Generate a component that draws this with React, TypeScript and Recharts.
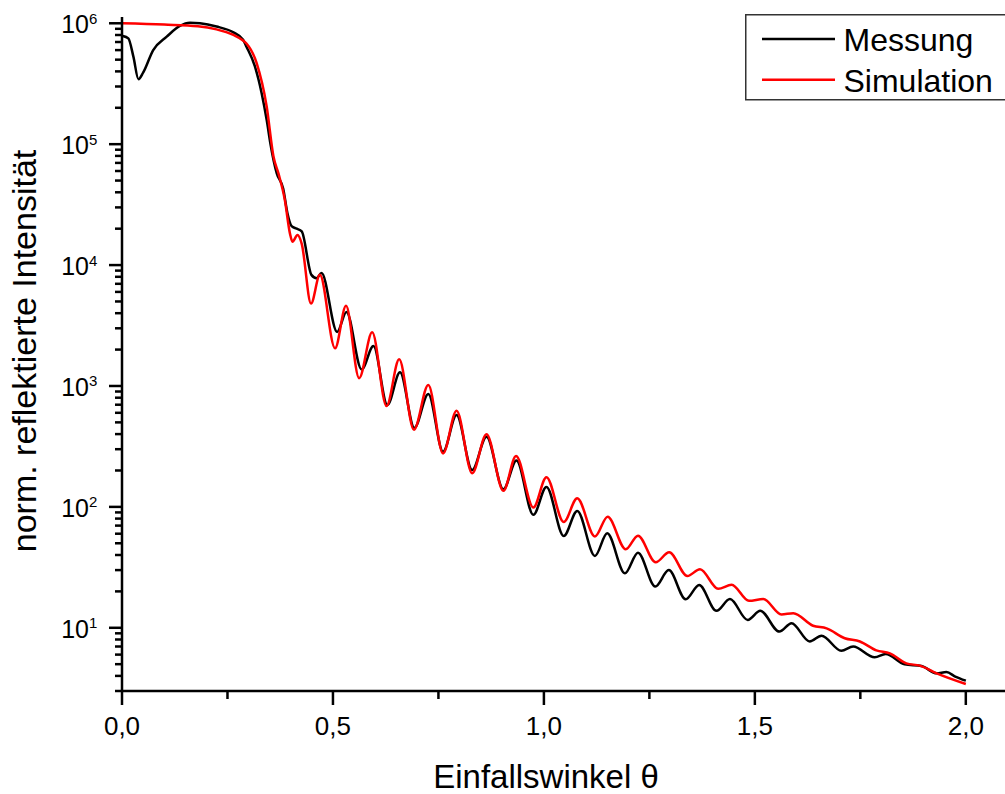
import React from 'react';
import { LineChart, Line, XAxis, YAxis, Legend } from 'recharts';

// Messung (gemessene Reflektivität)
const messungTheta = [
  0.002, 0.015, 0.027, 0.039, 0.05, 0.074, 0.106, 0.137, 0.161, 0.185, 0.224, 0.264, 0.287,
  0.295, 0.315, 0.331, 0.343, 0.352, 0.367, 0.382, 0.392, 0.402, 0.414, 0.426, 0.449, 0.461,
  0.473, 0.51, 0.532, 0.568, 0.596, 0.629, 0.659, 0.693, 0.726, 0.761, 0.793, 0.83, 0.864,
  0.904, 0.935, 0.975, 1.006, 1.047, 1.079, 1.121, 1.15, 1.192, 1.223, 1.264, 1.296, 1.336,
  1.368, 1.409, 1.441, 1.483, 1.513, 1.558, 1.587, 1.63, 1.658, 1.705, 1.733, 1.784, 1.81,
  1.855, 1.895, 1.931, 1.954, 1.975, 2.0,
];
const messungIntensity = [
  7.85e5, 7.5e5, 5.3e5, 3.45e5, 3.9e5, 6.0e5, 7.75e5, 9.5e5, 1.01e6, 1.0e6, 9.4e5, 8.4e5, 7.3e5,
  6.4e5, 4.4e5, 2.64e5, 1.58e5, 1.0e5, 5.7e4, 4.3e4, 2.7e4, 2.1e4, 2.0e4, 1.9e4, 8.3e3, 7.8e3,
  8.6e3, 2.8e3, 4.1e3, 1.37e3, 2.14e3, 697, 1.3e3, 450, 860, 286, 575, 202, 381,
  140, 242, 86, 146, 57.4, 92.5, 39.3, 60.5, 28.2, 41.8, 21.9, 30, 17.2,
  22.6, 13.8, 17.3, 11.6, 13.8, 9.3, 10.9, 7.7, 8.6, 6.46, 7.0, 5.7, 6.07,
  4.99, 4.83, 4.2, 4.3, 3.95, 3.65,
];

// Simulation
const simTheta = [
  0, 0.1, 0.18, 0.224, 0.264, 0.287, 0.295, 0.319, 0.343, 0.359, 0.371, 0.386, 0.398, 0.404,
  0.416, 0.426, 0.448, 0.469, 0.505, 0.531, 0.562, 0.593, 0.627, 0.657, 0.692, 0.726, 0.761,
  0.793, 0.83, 0.864, 0.904, 0.934, 0.975, 1.006, 1.047, 1.079, 1.121, 1.151, 1.194, 1.223,
  1.265, 1.297, 1.34, 1.37, 1.413, 1.445, 1.486, 1.52, 1.563, 1.591, 1.638, 1.67, 1.713,
  1.749, 1.788, 1.82, 1.859, 1.891, 1.931, 2.0,
];
const simIntensity = [
  1.0e6, 9.75e5, 9.45e5, 8.9e5, 8.0e5, 7.2e5, 6.8e5, 4.7e5, 2.04e5, 7.9e4, 5.7e4, 3.45e4, 1.83e4, 1.56e4,
  1.77e4, 1.5e4, 4.8e3, 8.3e3, 2.05e3, 4.6e3, 1.16e3, 2.78e3, 684, 1.66e3, 435, 1.02e3, 277,
  625, 190, 398, 136, 264, 99, 176, 75, 118, 57, 83, 44.6, 57.8,
  34.8, 42.2, 26.8, 30.5, 21, 22.7, 16.7, 17.3, 12.9, 13.2, 10.4, 9.9, 8.2,
  7.7, 6.5, 6.15, 5.08, 4.86, 4.2, 3.43,
];

const xTicks = [0, 0.25, 0.5, 0.75, 1.0, 1.25, 1.5, 1.75, 2.0];
const xTickLabels: Record<string, string> = { '0': '0,0', '0.5': '0,5', '1': '1,0', '1.5': '1,5', '2': '2,0' };
const yDecades = [0, 1, 2, 3, 4, 5];
const yMultipliers = [1, 2, 3, 4, 5, 6, 7, 8, 9];

const Y_MIN = 3;
const Y_MAX = 1.127e6;

const yTicks: number[] = [];
yDecades.forEach((e) => {
  yMultipliers.forEach((m) => {
    const v = Number((m * Math.pow(10, e)).toPrecision(3));
    if (v >= Y_MIN && v <= Y_MAX) yTicks.push(v);
  });
});
yTicks.push(1e6);

const messung = messungTheta.map((t, i) => ({ theta: t, value: messungIntensity[i] }));
const simulation = simTheta.map((t, i) => ({ theta: t, value: simIntensity[i] }));

const FONT = '"Liberation Sans", Arial, sans-serif';

const XTick = (props: any) => {
  const { x, y, payload } = props;
  const label = xTickLabels[String(payload.value)];
  const major = label !== undefined;
  return (
    <g>
      <line x1={x} x2={x} y1={y} y2={y + (major ? 14 : 8)} stroke="#000" strokeWidth={2.5} />
      {major && (
        <text x={x} y={y + 44} textAnchor="middle" fontSize={26} fontFamily={FONT} fill="#000">
          {label}
        </text>
      )}
    </g>
  );
};

const YTick = (props: any) => {
  const { x, y, payload } = props;
  const exp = Math.log10(payload.value);
  const major = Math.abs(exp - Math.round(exp)) < 1e-6;
  return (
    <g>
      <line x1={x - (major ? 13 : 7)} x2={x} y1={y} y2={y} stroke="#000" strokeWidth={2.5} />
      {major && (
        <g fontFamily={FONT} fill="#000">
          <text x={x - 33} y={y + 10} textAnchor="end" fontSize={25}>10</text>
          <text x={x - 33} y={y + 0.5} textAnchor="start" fontSize={15}>{Math.round(exp)}</text>
        </g>
      )}
    </g>
  );
};

const YTitle = () => (
  <text
    x={36}
    y={351}
    transform="rotate(-90, 36, 351)"
    textAnchor="middle"
    fontSize={34}
    fontFamily={FONT}
    fill="#000"
  >
    norm. reflektierte Intensität
  </text>
);

const XTitle = () => (
  <text x={546} y={788} textAnchor="middle" fontSize={33} fontFamily={FONT} fill="#000">
    Einfallswinkel θ
  </text>
);

const renderLegend = (props: any) => {
  const { payload } = props;
  return (
    <svg width={270} height={88} style={{ display: 'block' }}>
      <rect x={0.75} y={0.75} width={268} height={85} fill="#fff" stroke="#333" strokeWidth={1.5} />
      {(payload || []).map((entry: any, i: number) => (
        <g key={entry.value}>
          <line x1={17} x2={90} y1={25 + i * 40.7} y2={25 + i * 40.7} stroke={entry.color} strokeWidth={2.5} />
          <text x={98.5} y={37.4 + i * 41} fontSize={32} fontFamily={FONT} fill="#000">
            {entry.value}
          </text>
        </g>
      ))}
    </svg>
  );
};

export default function App() {
  return (
    <div style={{ position: 'absolute', left: 0, top: 0, width: 1005, height: 794, overflow: 'hidden', background: '#fff' }}>
      <LineChart width={1010} height={794} margin={{ top: 17, right: 2, bottom: 0, left: 0 }}>
        <XAxis
          type="number"
          dataKey="theta"
          domain={[0, 2.1]}
          ticks={xTicks}
          interval={0}
          allowDataOverflow
          height={103}
          tickSize={0}
          tickMargin={0}
          tickLine={false}
          axisLine={{ stroke: '#000', strokeWidth: 2.5 }}
          tick={<XTick />}
          label={{ content: XTitle }}
        />
        <YAxis
          type="number"
          scale="log"
          domain={[Y_MIN, Y_MAX]}
          ticks={yTicks}
          interval={0}
          allowDataOverflow
          width={122}
          tickSize={0}
          tickMargin={0}
          tickLine={false}
          axisLine={{ stroke: '#000', strokeWidth: 2.5 }}
          tick={<YTick />}
          label={{ content: YTitle }}
        />
        <Legend
          layout="vertical"
          align="center"
          verticalAlign="middle"
          content={renderLegend}
          wrapperStyle={{ left: 745, top: 14, width: 270, height: 88 }}
        />
        <Line
          data={messung}
          dataKey="value"
          name="Messung"
          type="monotone"
          stroke="#000000"
          strokeWidth={2.5}
          dot={false}
          activeDot={false}
          isAnimationActive={false}
        />
        <Line
          data={simulation}
          dataKey="value"
          name="Simulation"
          type="monotone"
          stroke="#ff0000"
          strokeWidth={2.5}
          dot={false}
          activeDot={false}
          isAnimationActive={false}
        />
      </LineChart>
    </div>
  );
}
